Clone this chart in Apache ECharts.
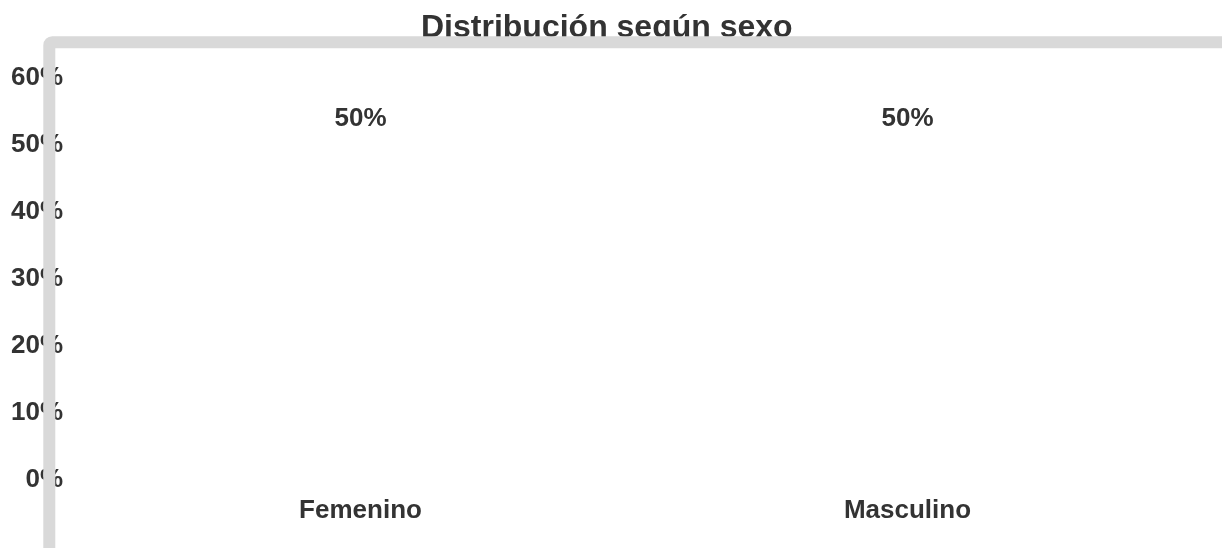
<!DOCTYPE html>
<html>
<head>
<meta charset="utf-8">
<script src="https://cdn.jsdelivr.net/npm/echarts@6/dist/echarts.min.js"></script>
<style>
  html, body { margin: 0; padding: 0; background: #fff; }
  #chart { width: 1222px; height: 548px; }
</style>
</head>
<body>
<div id="chart"></div>
<script>
// datos
const titleText = 'Distribución según sexo'
const categories = ['Femenino', 'Masculino']
const values = [50, 50]
const yMin = 0
const yMax = 60
const yStep = 10

const font = 'Liberation Sans, Arial, sans-serif'
const textColor = '#333333'

const chart = echarts.init(document.getElementById('chart'))
chart.setOption({
  backgroundColor: '#ffffff',
  animation: false,
  title: {
    text: titleText,
    left: 416,
    top: 7,
    textStyle: { fontFamily: font, fontSize: 32, fontWeight: 'bold', color: textColor }
  },
  grid: { left: 87, right: 41, top: 78, bottom: 68 },
  xAxis: {
    type: 'category',
    data: categories,
    axisLine: { show: false },
    axisTick: { show: false },
    axisLabel: { margin: 18, fontFamily: font, fontSize: 26, fontWeight: 'bold', color: textColor }
  },
  yAxis: {
    type: 'value',
    min: yMin,
    max: yMax,
    interval: yStep,
    splitLine: { show: false },
    axisLine: { show: false },
    axisTick: { show: false },
    axisLabel: {
      margin: 24,
      formatter: '{value}%',
      fontFamily: font, fontSize: 26, fontWeight: 'bold', color: textColor
    }
  },
  series: [{
    type: 'bar',
    data: values,
    barWidth: '50%',
    itemStyle: { color: 'rgba(0,0,0,0)' },
    label: {
      show: true,
      position: 'top',
      distance: 13,
      formatter: '{c}%',
      fontFamily: font, fontSize: 26, fontWeight: 'bold', color: textColor
    }
  }],
  // marco gris encima de todo
  graphic: [{
    type: 'rect',
    z: 100,
    silent: true,
    shape: { x: 49.3, y: 42.2, width: 2000, height: 2000, r: 3 },
    style: { fill: 'none', stroke: '#d9d9d9', lineWidth: 12 }
  }]
})
</script>
</body>
</html>
